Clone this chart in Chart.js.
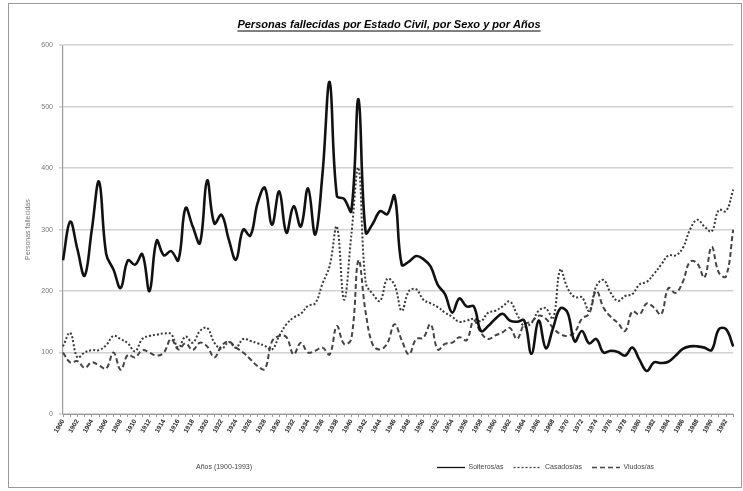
<!DOCTYPE html>
<html>
<head>
<meta charset="utf-8">
<script src="https://cdn.jsdelivr.net/npm/chart.js@4"></script>
<style>
  html, body { margin: 0; padding: 0; background: #fff; }
  #frame { position: absolute; left: 8px; top: 3px; width: 732px; height: 483px; border: 1px solid #9a9a9a; }
  #frame canvas { display: block; }
</style>
</head>
<body>
<div id="frame"><canvas id="chart"></canvas></div>
<script>
// Años 1900–1993, one category per year
const YEARS = [
  '1900','1901','1902','1903','1904','1905','1906','1907','1908','1909',
  '1910','1911','1912','1913','1914','1915','1916','1917','1918','1919',
  '1920','1921','1922','1923','1924','1925','1926','1927','1928','1929',
  '1930','1931','1932','1933','1934','1935','1936','1937','1938','1939',
  '1940','1941','1942','1943','1944','1945','1946','1947','1948','1949',
  '1950','1951','1952','1953','1954','1955','1956','1957','1958','1959',
  '1960','1961','1962','1963','1964','1965','1966','1967','1968','1969',
  '1970','1971','1972','1973','1974','1975','1976','1977','1978','1979',
  '1980','1981','1982','1983','1984','1985','1986','1987','1988','1989',
  '1990','1991','1992','1993'
];

const SOLTEROS = [
  250, 313, 268, 225, 300, 378, 260, 235, 205, 250,
  243, 260, 200, 282, 258, 265, 250, 335, 305, 278,
  380, 310, 324, 284, 251, 300, 290, 343, 368, 308,
  362, 295, 338, 305, 367, 292, 390, 540, 355, 350,
  330, 512, 295, 310, 330, 325, 355, 243, 248, 257,
  252, 240, 210, 195, 165, 188, 175, 175, 135, 143,
  155, 163, 152, 150, 152,  98, 152, 107, 140, 172,
  165, 118, 135, 115, 122, 100, 103, 101,  95, 108,
   88,  70,  84,  83,  85,  95, 106, 110, 110, 108,
  104, 138, 138, 110
];

const CASADOS = [
  110, 132,  92, 100, 104, 104, 112, 127, 122, 115,
  102, 122, 127, 129, 131, 130, 108, 126, 116, 135,
  140, 116, 106, 117, 108, 122, 119, 115, 111, 105,
  127, 146, 157, 163, 176, 180, 212, 241, 305, 186,
  290, 400, 214, 195, 184, 220, 210, 168, 200, 203,
  186, 180, 174, 165, 158, 150, 152, 155, 151, 165,
  168, 175, 183, 162, 143, 148, 168, 172, 155, 235,
  205, 190, 190, 168, 208, 218, 197, 184, 192, 195,
  211, 215, 228, 243, 258, 258, 270, 300, 316, 305,
  297, 332, 330, 365
];

const VIUDOS = [
  100,  84,  86,  75,  84,  79,  74, 100,  72,  96,
   92, 104, 100,  95, 100, 122, 105, 115, 104, 116,
  110,  92, 111, 118, 108, 100,  89,  78,  73, 118,
  127, 125,  97, 116, 100, 103, 108,  97, 143, 114,
  122, 250, 165, 112, 105, 115, 146, 120,  97, 122,
  124, 146, 105, 114, 116, 125, 120, 152, 132, 122,
  128, 133, 140, 122, 146, 150, 160, 155, 140, 130,
  127, 133, 155, 163, 200, 173, 158, 148, 135, 167,
  162, 180, 173, 162, 205, 197, 215, 248, 245, 222,
  272, 230, 224, 300
];

const Y_TICKS = [0, 100, 200, 300, 400, 500, 600];

const FONT = "'Liberation Sans', Arial, sans-serif";

// underline under the title + the "Años" caption next to the legend
const extras = {
  id: 'extras',
  afterLayout(chart) {
    // legend box sits to the right, title a bit right of centre, as in the original sheet
    chart.legend.left = chart.chartArea.left + 364;
    chart.titleBlock.left += 32;
  },
  afterDraw(chart) {
    const ctx = chart.ctx;
    const t = chart.titleBlock;
    ctx.save();
    ctx.font = t.options.font.style + ' ' + t.options.font.weight + ' ' + t.options.font.size + 'px ' + FONT;
    const w = ctx.measureText(t.options.text).width;
    const cx = (t.left + t.right) / 2;
    const y = t.top + t.options.padding.top + t.options.font.size + 2;
    ctx.strokeStyle = '#000';
    ctx.lineWidth = 1;
    ctx.beginPath();
    ctx.moveTo(cx - w / 2, y);
    ctx.lineTo(cx + w / 2, y);
    ctx.stroke();

    const lg = chart.legend;
    ctx.font = '7px ' + FONT;
    ctx.fillStyle = '#444';
    ctx.textBaseline = 'middle';
    ctx.fillText('Años (1900-1993)', chart.chartArea.left + 133, (lg.top + lg.bottom) / 2);
    ctx.restore();
  }
};

new Chart(document.getElementById('chart'), {
  type: 'line',
  data: {
    labels: YEARS,
    datasets: [
      {
        label: 'Solteros/as',
        data: SOLTEROS,
        borderColor: '#111',
        borderWidth: 2.6,
        pointRadius: 0,
        tension: 0.4
      },
      {
        label: 'Casados/as',
        data: CASADOS,
        borderColor: '#3a3a3a',
        borderWidth: 2,
        borderDash: [2, 2],
        pointRadius: 0,
        tension: 0.4
      },
      {
        label: 'Viudos/as',
        data: VIUDOS,
        borderColor: '#444',
        borderWidth: 2,
        borderDash: [5, 3],
        pointRadius: 0,
        tension: 0.4
      }
    ]
  },
  options: {
    responsive: true,
    maintainAspectRatio: false,
    animation: false,
    layout: { padding: { left: 0, right: 4, top: 0, bottom: 6 } },
    plugins: {
      title: {
        display: true,
        text: 'Personas fallecidas por Estado Civil, por Sexo y por Años',
        color: '#000',
        font: { family: FONT, size: 11, weight: 'bold', style: 'italic' },
        padding: { top: 14, bottom: 14 }
      },
      legend: {
        position: 'bottom',
        align: 'start',
        labels: {
          color: '#444',
          font: { family: FONT, size: 7 },
          usePointStyle: true,
          pointStyle: 'line',
          pointStyleWidth: 28,
          padding: 10,
          // point style legends drop the dataset dash, so copy it back
          generateLabels: chart => Chart.defaults.plugins.legend.labels.generateLabels(chart)
            .map(item => Object.assign(item, {
              lineWidth: 1.3,
              lineDash: chart.data.datasets[item.datasetIndex].borderDash || []
            }))
        }
      },
      tooltip: { enabled: false }
    },
    scales: {
      x: {
        afterFit: s => { s.height = 40; },
        grid: { drawOnChartArea: false, drawTicks: true, tickLength: 3, color: '#9a9a9a' },
        border: { color: '#9a9a9a' },
        ticks: {
          autoSkip: false,
          minRotation: 60,
          maxRotation: 60,
          padding: 1,
          color: '#222',
          font: { family: FONT, size: 6.5, weight: 'bold' },
          callback: (v, i) => i % 2 === 0 ? YEARS[i] : ''
        }
      },
      y: {
        min: 0,
        max: 600,
        afterFit: s => { s.width = 54; },
        afterBuildTicks: s => { s.ticks = Y_TICKS.map(v => ({ value: v })); },
        grid: { color: '#d2d2d2', lineWidth: 1.6, tickLength: 4 },
        border: { color: '#9a9a9a', width: 1.2 },
        ticks: { color: '#777', padding: 6, font: { family: FONT, size: 7 } },
        title: {
          display: true,
          text: 'Personas fallecidas',
          color: '#777',
          font: { family: FONT, size: 7 },
          padding: { top: 15, bottom: 0 }
        }
      }
    }
  },
  plugins: [extras]
});
</script>
</body>
</html>
